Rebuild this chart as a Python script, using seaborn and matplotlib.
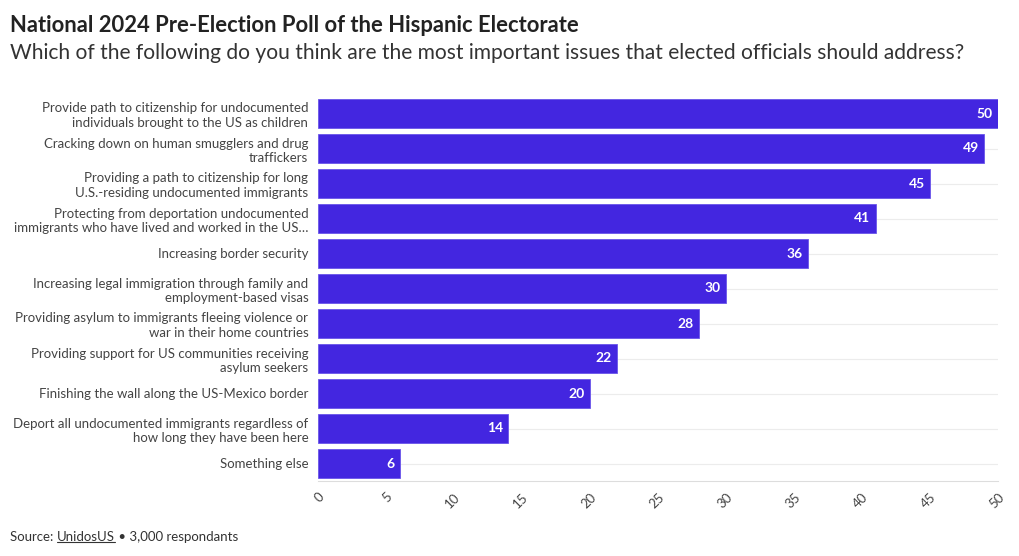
import matplotlib
matplotlib.use("Agg")
import matplotlib.pyplot as plt
import seaborn as sns
import pandas as pd

categories = [
    "Provide path to citizenship for undocumented\nindividuals brought to the US as children",
    "Cracking down on human smugglers and drug\ntraffickers",
    "Providing a path to citizenship for long\nU.S.-residing undocumented immigrants",
    "Protecting from deportation undocumented\nimmigrants who have lived and worked in the US…",
    "Increasing border security",
    "Increasing legal immigration through family and\nemployment-based visas",
    "Providing asylum to immigrants fleeing violence or\nwar in their home countries",
    "Providing support for US communities receiving\nasylum seekers",
    "Finishing the wall along the US-Mexico border",
    "Deport all undocumented immigrants regardless of\nhow long they have been here",
    "Something else",
]
values = [50, 49, 45, 41, 36, 30, 28, 22, 20, 14, 6]
xticks = [0, 5, 10, 15, 20, 25, 30, 35, 40, 45, 50]

sns.set_theme(style="white")
FONT = ["Lato", "DejaVu Sans"]
plt.rcParams["font.family"] = FONT

df = pd.DataFrame({"issue": categories, "value": values})

fig = plt.figure(figsize=(10.2, 5.56), dpi=100)
ax = fig.add_axes([318 / 1020, 1 - 481 / 556, (998 - 318) / 1020, (481 - 96) / 556])

bar_color = "#4326E0"
sns.barplot(data=df, y="issue", x="value", orient="h", color=bar_color,
            saturation=1, width=0.82, ax=ax, edgecolor="#6a55ea", linewidth=0.6)

for i, v in enumerate(values):
    ax.axhline(i, color="#ececec", lw=0.8, zorder=0)
    ax.text(v - 0.4, i, str(v), ha="right", va="center", color="white",
            fontsize=10, fontweight="bold")

ax.set_xlim(0, 50)
ax.set_ylim(len(values) - 0.5, -0.5)
ax.set_xticks(xticks)
ax.set_xticklabels([str(t) for t in xticks], rotation=45, ha="right",
                   rotation_mode="anchor", fontsize=9.5, color="#444444")
ax.tick_params(axis="x", length=4, color="#cccccc", pad=3)
ax.tick_params(axis="y", length=0, pad=7, labelsize=9.5, labelcolor="#444444")
for lbl in ax.get_yticklabels():
    lbl.set_horizontalalignment("right")
    lbl.set_multialignment("right")
    lbl.set_linespacing(1.22)
ax.set_xlabel("")
ax.set_ylabel("")
for s in ["top", "right", "left"]:
    ax.spines[s].set_visible(False)
ax.spines["bottom"].set_color("#dddddd")
ax.spines["bottom"].set_linewidth(0.8)

fig.text(10 / 1020, 1 - 25 / 556, "National 2024 Pre-Election Poll of the Hispanic Electorate",
         fontsize=15.8, fontweight="bold", color="#222222", va="center", ha="left")
fig.text(10 / 1020, 1 - 53 / 556,
         "Which of the following do you think are the most important issues that elected officials should address?",
         fontsize=15.1, color="#333333", va="center", ha="left")

# Source line with underlined link text
fig.canvas.draw()
r = fig.canvas.get_renderer()
y_src = 1 - 537 / 556
t1 = fig.text(10 / 1020, y_src, "Source: ", fontsize=9.5, color="#333333", va="center", ha="left")
fig.canvas.draw()
bb1 = t1.get_window_extent(r)
t2 = fig.text(bb1.x1 / fig.bbox.width, y_src, "UnidosUS", fontsize=9.5, color="#333333",
              va="center", ha="left")
fig.canvas.draw()
bb2 = t2.get_window_extent(r)
fig.add_artist(plt.Line2D([bb2.x0 / fig.bbox.width, bb2.x1 / fig.bbox.width],
                          [(bb2.y0 + 1) / fig.bbox.height] * 2,
                          transform=fig.transFigure, color="#333333", lw=0.8))
fig.text(bb2.x1 / fig.bbox.width, y_src, " • 3,000 respondants", fontsize=9.5,
         color="#333333", va="center", ha="left")

fig.savefig("out.png", dpi=100)
